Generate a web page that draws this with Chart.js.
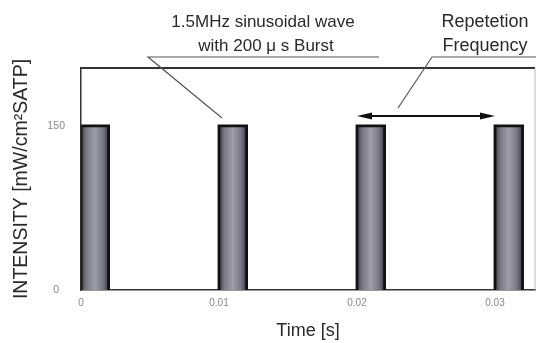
<!DOCTYPE html>
<html>
<head>
<meta charset="utf-8">
<script src="https://cdn.jsdelivr.net/npm/chart.js@4"></script>
<style>
  body { margin: 0; background: #fff; }
  #wrap { width: 536px; height: 343px; }
</style>
</head>
<body>
<div id="wrap"><canvas id="pulseChart"></canvas></div>
<script>
/* burst train data */
const burstStarts = [0, 0.01, 0.02, 0.03];
const burstLength = 0.002;
const intensity = [150, 150, 150, 150];
const xTicks = [0, 0.01, 0.02, 0.03];
const yTicks = [0, 150];
const repArrow = [0.02, 0.03];   // repetition arrow, from / to (s)
const repArrowLevel = 159;

const datasets = burstStarts.map((t, i) => ({
  label: 'burst ' + (i + 1),
  data: [
    { x: t, y: 0 },
    { x: t, y: intensity[i] },
    { x: t + burstLength, y: intensity[i] },
    { x: t + burstLength, y: 0 }
  ],
  fill: 'origin',
  borderColor: '#111',
  borderWidth: 2.8,
  pointRadius: 0,
  tension: 0,
  backgroundColor: function (ctx) {
    const chart = ctx.chart;
    if (!chart.chartArea) return '#8c8c98';
    const xs = chart.scales.x;
    const x0 = xs.getPixelForValue(t);
    const x1 = xs.getPixelForValue(t + burstLength);
    const g = chart.ctx.createLinearGradient(x0, 0, x1, 0);
    g.addColorStop(0, '#3c3c46');
    g.addColorStop(0.2, '#7a7a87');
    g.addColorStop(0.5, '#9d9dab');
    g.addColorStop(0.8, '#777784');
    g.addColorStop(1, '#393942');
    return g;
  }
}));

const notes = {
  id: 'notes',
  afterDraw(chart) {
    const g = chart.ctx;
    const a = chart.chartArea;
    const xs = chart.scales.x, ys = chart.scales.y;
    g.save();
    // top and right frame
    g.strokeStyle = '#333';
    g.lineWidth = 2;
    g.beginPath();
    g.moveTo(a.left, a.top);
    g.lineTo(a.right, a.top);
    g.stroke();
    g.strokeStyle = '#bbb';
    g.lineWidth = 1;
    g.beginPath();
    g.moveTo(a.right, a.top);
    g.lineTo(a.right, a.bottom);
    g.stroke();

    // text notes
    g.fillStyle = '#2a2a2a';
    g.font = '17px "Liberation Sans", Arial, sans-serif';
    g.textAlign = 'center';
    g.textBaseline = 'middle';
    g.fillText('1.5MHz sinusoidal wave', 263, 22);
    g.fillText('with 200 \u03bc s Burst', 266, 46);
    g.font = '18px "Liberation Sans", Arial, sans-serif';
    g.fillText('Repetetion', 485, 22);
    g.fillText('Frequency', 485, 46);

    // leader lines
    g.strokeStyle = '#555';
    g.lineWidth = 1.2;
    g.beginPath();
    g.moveTo(379, 57);
    g.lineTo(148, 57);
    g.lineTo(222, 118);
    g.moveTo(536, 57);
    g.lineTo(432, 57);
    g.lineTo(398, 108);
    g.stroke();

    // repetition double arrow
    const ax0 = xs.getPixelForValue(repArrow[0]);
    const ax1 = xs.getPixelForValue(repArrow[1]);
    const ay = ys.getPixelForValue(repArrowLevel);
    g.strokeStyle = '#111';
    g.fillStyle = '#111';
    g.lineWidth = 2;
    g.beginPath();
    g.moveTo(ax0 + 6, ay);
    g.lineTo(ax1 - 6, ay);
    g.stroke();
    g.beginPath();
    g.moveTo(ax0, ay);
    g.lineTo(ax0 + 15, ay - 3.5);
    g.lineTo(ax0 + 15, ay + 3.5);
    g.closePath();
    g.moveTo(ax1, ay);
    g.lineTo(ax1 - 15, ay - 3.5);
    g.lineTo(ax1 - 15, ay + 3.5);
    g.closePath();
    g.fill();
    g.restore();
  }
};

const config = {
  type: 'line',
  data: { datasets: datasets },
  options: {
    responsive: true,
    maintainAspectRatio: false,
    animation: false,
    layout: { padding: { top: 68, right: 1, left: 0, bottom: 0 } },
    plugins: { legend: { display: false }, tooltip: { enabled: false } },
    scales: {
      x: {
        type: 'linear',
        min: 0,
        max: 0.0329,
        afterBuildTicks: s => { s.ticks = xTicks.map(v => ({ value: v })); },
        afterFit: s => { s.height = 53; },
        grid: { display: false, drawTicks: false },
        border: { display: true, color: '#333', width: 1.5 },
        ticks: {
          padding: 7,
          color: '#888',
          font: { size: 10, family: '"Liberation Sans", Arial, sans-serif' },
          callback: v => String(v)
        },
        title: {
          display: true,
          text: 'Time [s]',
          color: '#2a2a2a',
          padding: { top: 0, bottom: 1 },
          font: { size: 18, family: '"Liberation Sans", Arial, sans-serif' }
        }
      },
      y: {
        min: 0,
        max: 203,
        afterBuildTicks: s => { s.ticks = yTicks.map(v => ({ value: v })); },
        afterFit: s => { s.width = 81; },
        grid: { display: false, drawTicks: false },
        border: { display: true, color: '#333', width: 1.5 },
        ticks: {
          padding: 16,
          crossAlign: 'center',
          color: '#888',
          font: { size: 10.5, family: '"Liberation Sans", Arial, sans-serif' }
        },
        title: {
          display: true,
          text: 'INTENSITY [mW/cm\u00b2SATP]',
          color: '#2a2a2a',
          padding: { top: 10, bottom: 0 },
          font: { size: 19.5, family: '"Liberation Sans", Arial, sans-serif' }
        }
      }
    }
  },
  plugins: [notes]
};

const pulseChart = new Chart(document.getElementById('pulseChart'), config);
</script>
</body>
</html>
